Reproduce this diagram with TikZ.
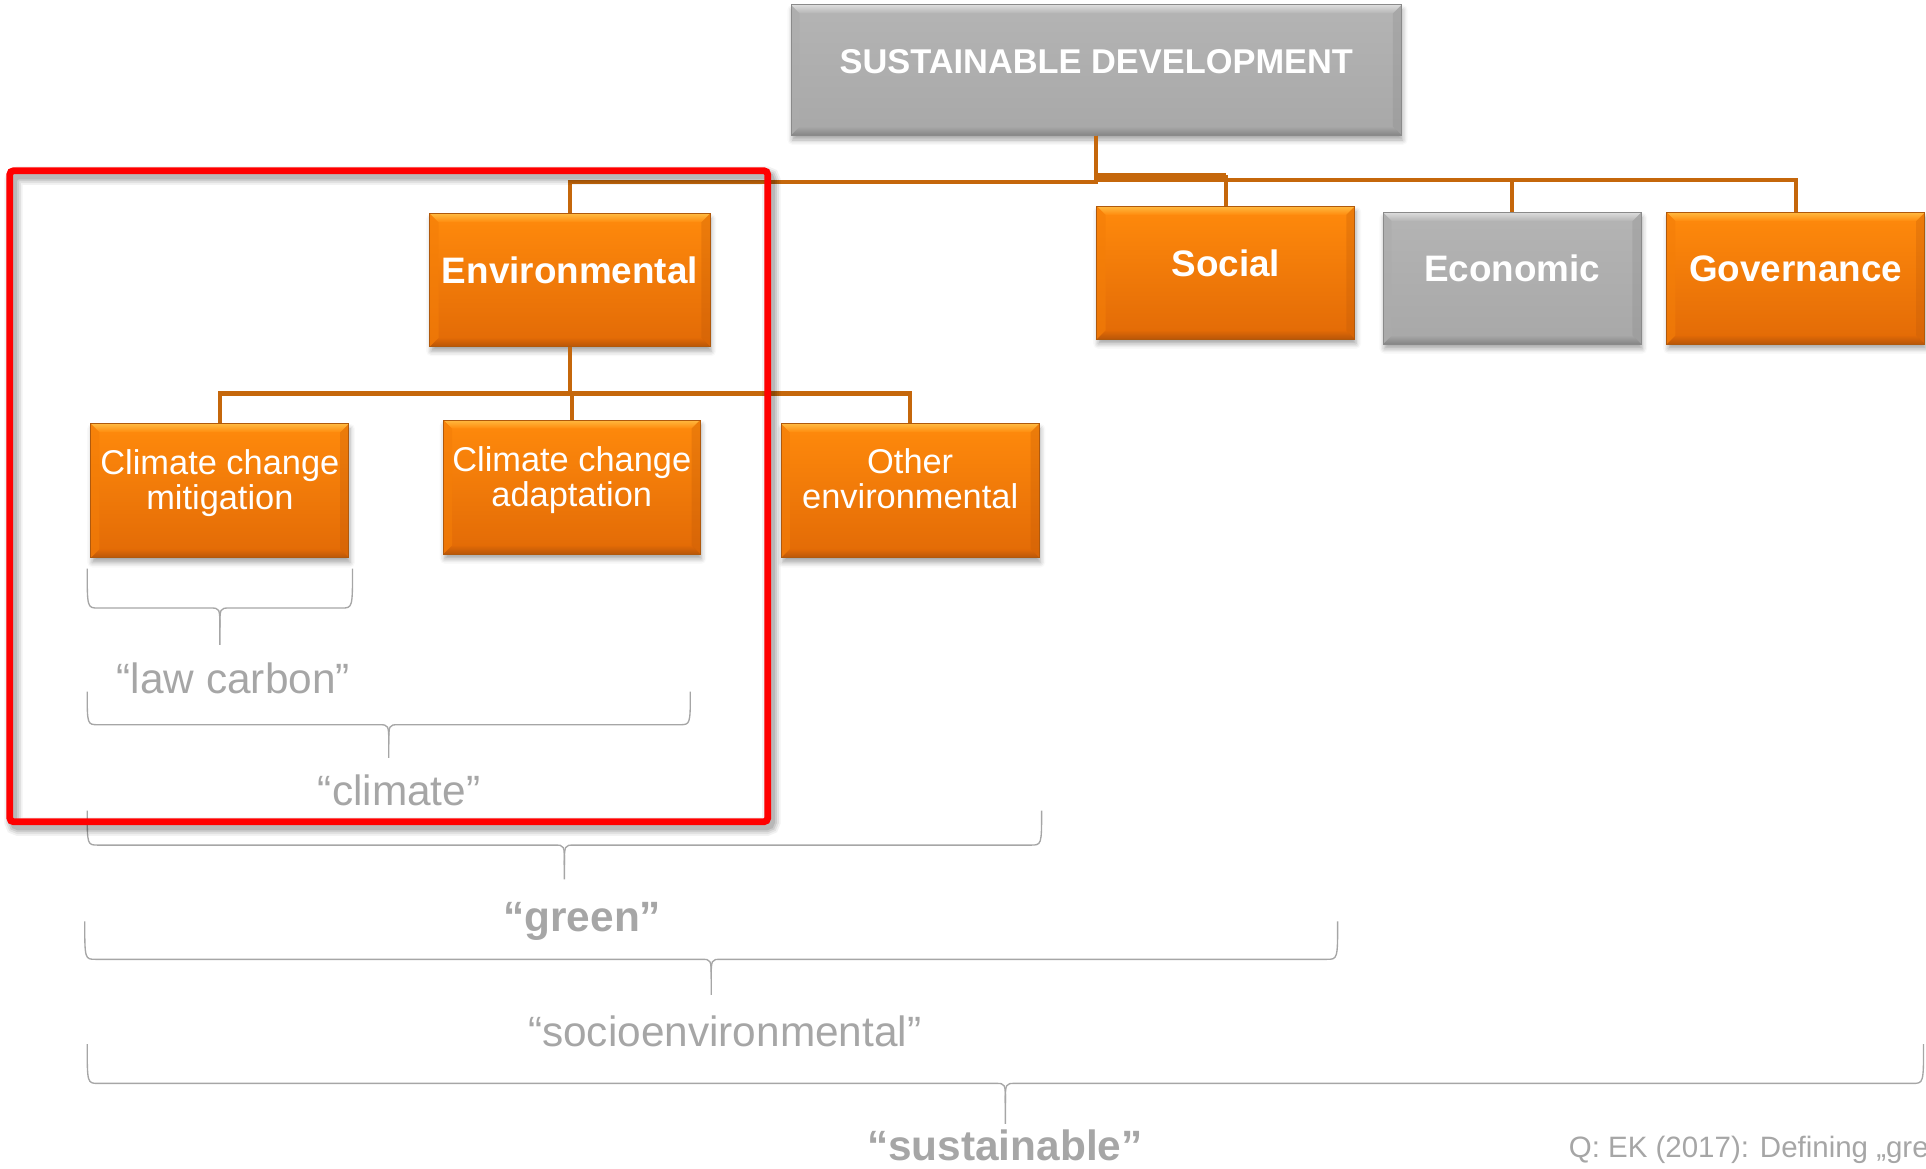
\documentclass[tikz,border=0pt]{standalone}
\usepackage{fontspec}
\setmainfont{Liberation Sans}
\usetikzlibrary{shadows.blur}

% box colours: orange and grey, with bevel highlights
\definecolor{orTop}{HTML}{FF8A0C}
\definecolor{orBot}{HTML}{E26A06}
\definecolor{orHi}{HTML}{FFB940}
\definecolor{orLo}{HTML}{B95608}
\definecolor{orSide}{HTML}{F47E08}
\definecolor{orEdge}{HTML}{B0590C}
\definecolor{grTop}{HTML}{B4B4B4}
\definecolor{grBot}{HTML}{A8A8A8}
\definecolor{grHi}{HTML}{DCDCDC}
\definecolor{grLo}{HTML}{858585}
\definecolor{grSide}{HTML}{ACACAC}
\definecolor{grEdge}{HTML}{8A8A8A}
\definecolor{link}{HTML}{C5670B}
\definecolor{note}{HTML}{A6A6A6}
\definecolor{frame}{HTML}{FF0000}

% under-brace: left x, right x, top y, middle y, tip y
\newcommand\curlyunder[5]{%
  \draw[brace] (#1,#3) .. controls (#1,#4) .. (#1+9,#4)
     -- ({(#1+#2)/2-8},#4) .. controls ({(#1+#2)/2},#4) .. ({(#1+#2)/2},#4+16)
     -- ({(#1+#2)/2},#5);
  \draw[brace] (#2,#3) .. controls (#2,#4) .. (#2-9,#4)
     -- ({(#1+#2)/2+8},#4) .. controls ({(#1+#2)/2},#4) .. ({(#1+#2)/2},#4+16);
}

\begin{document}
\begin{tikzpicture}[x=1pt,y=-1pt,
  bevel/.style={path picture={
    \path (path picture bounding box.north west) coordinate (bvA)
          (path picture bounding box.north east) coordinate (bvB)
          (path picture bounding box.south east) coordinate (bvC)
          (path picture bounding box.south west) coordinate (bvD);
    \shade[top color=#1Hi, bottom color=#1Top]
      (bvA) -- (bvB) -- ([shift={(-7pt,-7pt)}]bvB) -- ([shift={(7pt,-7pt)}]bvA) -- cycle;
    \shade[top color=#1Bot, bottom color=#1Lo]
      (bvD) -- (bvC) -- ([shift={(-7pt,7pt)}]bvC) -- ([shift={(7pt,7pt)}]bvD) -- cycle;
    \fill[#1Side, opacity=0.6]
      (bvA) -- ([shift={(7pt,-7pt)}]bvA) -- ([shift={(7pt,7pt)}]bvD) -- (bvD) -- cycle;
    \fill[#1Lo, opacity=0.25]
      (bvB) -- ([shift={(-7pt,-7pt)}]bvB) -- ([shift={(-7pt,7pt)}]bvC) -- (bvC) -- cycle;
  }},
  box/.style={rectangle, inner sep=0pt, text=white, draw=#1Edge, line width=0.7pt,
    top color=#1Top, bottom color=#1Bot, bevel=#1,
    blur shadow={shadow xshift=1pt, shadow yshift=-4pt, shadow blur radius=4pt, shadow opacity=35}},
  lvlone/.style={font=\fontsize{28}{30}\selectfont\bfseries, text height=21pt, text depth=14.8pt},
  lvltwo/.style={font=\fontsize{30}{32}\selectfont\bfseries, text height=22.5pt, text depth=16.5pt},
  boxtext/.style={text=white, align=center, inner sep=0pt, font=\fontsize{28}{28.5}\selectfont},
  tag/.style={text=note, inner sep=0pt, anchor=base, font=\fontsize{34.5}{36}\selectfont},
  tagbold/.style={tag, font=\fontsize{34.5}{36}\selectfont\bfseries},
  brace/.style={draw=note, line width=1.1pt},
  conn/.style={draw=link, line width=3.6pt},
  focusframe/.style={draw=frame, line width=5.5pt, rounded corners=3pt, inner sep=0pt},
]
\useasboundingbox (0,0) rectangle (1568,951);

% top level
\node[box=gr, lvlone, minimum width=497pt, minimum height=106pt] (sd) at (892.5,57) {SUSTAINABLE DEVELOPMENT};

% pillars
\node[box=or, lvltwo, minimum width=228pt, minimum height=108pt] (env) at (464,228) {Environmental};
\node[box=or, lvltwo, minimum width=210pt, minimum height=108pt] (soc) at (998,222) {Social};
\node[box=gr, lvltwo, minimum width=210pt, minimum height=107pt] (eco) at (1231,226.5) {Economic};
\node[box=or, lvltwo, minimum width=210pt, minimum height=107pt] (gov) at (1462,226.5) {Governance};

% environmental sub-topics
\node[box=or, minimum width=210pt, minimum height=109pt] (mit) at (179,399.5) {};
\node[box=or, minimum width=209pt, minimum height=109pt] (ada) at (465.5,396.5) {};
\node[box=or, minimum width=210pt, minimum height=109pt] (oth) at (741,399.5) {};
\node[boxtext] (mitT) at ([yshift=5.8pt]mit.center) {Climate change\\mitigation};
\node[boxtext] (adaT) at ([yshift=5.5pt]ada.center) {Climate change\\adaptation};
\node[boxtext] (othT) at ([yshift=9.7pt]oth.center) {Other\\environmental};

% connectors
\draw[conn] (sd.south) -- ++(0,38) -| (env.north);
\draw[conn] (sd.south) -- ++(0,36) -| (eco.north);
\draw[conn] (sd.south) -- ++(0,36) -| (gov.north);
\draw[conn] (sd.south) -- ++(0,34) coordinate (sdj) -| (soc.north);
\draw[conn, line width=6.5pt] (sdj) -- (sdj -| soc.north);
\draw[conn] (env.south) -- ++(0,38) -| (mit.north);
\draw[conn] (env.south) -- ++(0,38) -| (ada.north);
\draw[conn] (env.south) -- ++(0,38) -| (oth.north);

% braces and their terms
\curlyunder{71}{287}{463}{495}{525}
\curlyunder{71}{562}{563}{590}{617}
\curlyunder{71}{848}{660}{688}{716}
\curlyunder{69}{1089}{750}{781}{810}
\curlyunder{71}{1566}{850}{882}{915}

\node[tag] (lowc) at (190,564.5) {“law carbon”};
\node[tag] (clim) at (325,655.5) {“climate”};
\node[tagbold] (green) at (474,758) {“green”};
\node[tag] (socio) at (590,852) {“socioenvironmental”};
\node[tagbold] (sust) at (818,944.5) {“sustainable”};
\node[tag, anchor=base west, font=\fontsize{24}{26}\selectfont] (src) at (1277,942) {Q: EK (2017): Defining „gre};

% highlight frame with soft shadow
\foreach \w/\o in {15/0.05, 12/0.07, 9/0.09, 6/0.1}
  \draw[black, opacity=\o, line width=\w pt, rounded corners=4pt] (11,143) rectangle (628,673);
\node[focusframe, minimum width=617pt, minimum height=530pt] (focus) at (316.5,404) {};
\end{tikzpicture}
\end{document}
